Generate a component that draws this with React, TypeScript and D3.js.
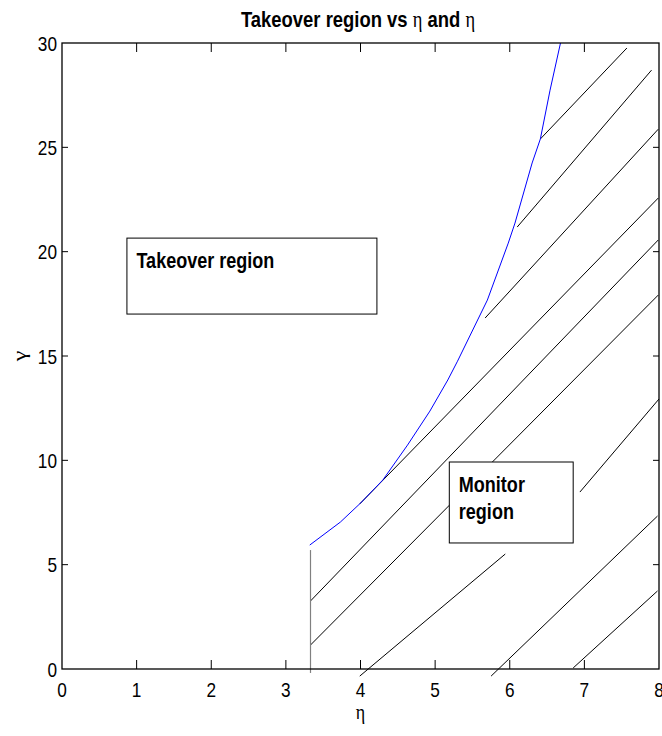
import React, { useEffect, useRef } from 'react';
import * as d3 from 'd3';

// boundary between takeover and monitor regions
const boundaryEta = [3.32, 3.73, 4.0, 4.3, 4.63, 4.93, 5.17, 5.3, 5.7, 5.98, 6.07, 6.3, 6.41, 6.54, 6.68];
const boundaryGamma = [5.94, 7.04, 7.95, 9.06, 10.73, 12.36, 13.85, 14.75, 17.68, 20.41, 21.37, 24.25, 25.4, 27.74, 30];

// lower limit of eta
const etaMin = 3.33;
const etaMinGamma = [5.7, -0.19];

// hatch segments (eta, gamma) start -> end
const hatchX1 = [6.41, 6.1, 5.67, 3.99, 3.33, 3.33, 3.99, 5.75, 6.85, 6.94];
const hatchY1 = [25.4, 21.18, 16.82, 7.91, 3.26, 1.15, -0.34, -0.34, 0.05, 8.48];
const hatchX2 = [7.57, 7.9, 7.99, 7.99, 7.99, 7.99, 5.94, 7.98, 7.98, 8.0];
const hatchY2 = [29.76, 28.7, 25.87, 22.57, 20.56, 17.92, 5.51, 7.33, 3.74, 12.94];

// text boxes: [eta0, eta1], [gamma top, gamma bottom]
const boxLabels = [['Takeover region'], ['Monitor', 'region']];
const boxEta = [[0.87, 4.22], [5.19, 6.85]];
const boxGamma = [[20.65, 17.01], [9.92, 6.04]];

const xTicks = [0, 1, 2, 3, 4, 5, 6, 7, 8];
const yTicks = [0, 5, 10, 15, 20, 25, 30];

const SQ = 0.82; // horizontal squeeze of the exported figure
const SANS = 'Liberation Sans, Arial, Helvetica, sans-serif';
const SERIF = 'Liberation Serif, Times New Roman, serif';

function App() {
    const svgRef = useRef(null);

    useEffect(() => {
        document.body.style.margin = '0';
        drawChart();
    }, []);

    const drawChart = () => {
        const svg = d3.select(svgRef.current);
        svg.selectAll('*').remove();

        const left = 62, right = 659, top = 43, bottom = 669;
        const x = d3.scaleLinear().domain([0, 8]).range([left, right]);
        const y = d3.scaleLinear().domain([0, 30]).range([bottom, top]);

        const label = (px, py, txt, size, weight, anchor, family = SANS) =>
            svg.append('text')
                .attr('transform', `translate(${px},${py}) scale(${SQ},1)`)
                .attr('text-anchor', anchor)
                .attr('font-family', family)
                .attr('font-size', size)
                .attr('font-weight', weight)
                .attr('fill', '#000')
                .text(txt);

        // hatch lines
        svg.append('g').selectAll('line')
            .data(hatchX1.map((d, i) => i))
            .enter()
            .append('line')
            .attr('x1', i => x(hatchX1[i]))
            .attr('y1', i => y(hatchY1[i]))
            .attr('x2', i => x(hatchX2[i]))
            .attr('y2', i => y(hatchY2[i]))
            .attr('stroke', '#000')
            .attr('stroke-width', 1);

        // eta lower limit
        svg.append('line')
            .attr('x1', x(etaMin)).attr('x2', x(etaMin))
            .attr('y1', y(etaMinGamma[0])).attr('y2', y(etaMinGamma[1]))
            .attr('stroke', '#808080')
            .attr('stroke-width', 1.2);

        // boundary curve
        const line = d3.line().x(d => x(d[0])).y(d => y(d[1]));
        svg.append('path')
            .datum(boundaryEta.map((e, i) => [e, boundaryGamma[i]]))
            .attr('d', line)
            .attr('fill', 'none')
            .attr('stroke', '#0000ff')
            .attr('stroke-width', 1);

        // text boxes
        boxLabels.forEach((lines, i) => {
            const bx = x(boxEta[i][0]);
            const by = y(boxGamma[i][0]);
            svg.append('rect')
                .attr('x', bx)
                .attr('y', by)
                .attr('width', x(boxEta[i][1]) - bx)
                .attr('height', y(boxGamma[i][1]) - by)
                .attr('fill', '#fff')
                .attr('stroke', '#000')
                .attr('stroke-width', 1);
            lines.forEach((t, j) => label(bx + 9.5, by + 30 + j * 27, t, 22, 'bold', 'start'));
        });

        // axes box
        svg.append('rect')
            .attr('x', left).attr('y', top)
            .attr('width', right - left).attr('height', bottom - top)
            .attr('fill', 'none')
            .attr('stroke', '#000')
            .attr('stroke-width', 1.3);

        const ticks = svg.append('g').attr('stroke', '#000').attr('stroke-width', 1);
        xTicks.slice(1, -1).forEach(t => {
            ticks.append('line').attr('x1', x(t)).attr('x2', x(t)).attr('y1', bottom).attr('y2', bottom - 9);
            ticks.append('line').attr('x1', x(t)).attr('x2', x(t)).attr('y1', top).attr('y2', top + 9);
        });
        yTicks.slice(1, -1).forEach(t => {
            ticks.append('line').attr('y1', y(t)).attr('y2', y(t)).attr('x1', left).attr('x2', left + 6);
            ticks.append('line').attr('y1', y(t)).attr('y2', y(t)).attr('x1', right).attr('x2', right - 6);
        });

        xTicks.forEach(t => label(x(t), bottom + 28, String(t), 21, 'normal', 'middle'));
        yTicks.forEach(t => label(left - 5, y(t) + 7.5, String(t), 21, 'normal', 'end'));

        // axis titles
        label(x(4), bottom + 50, 'η', 22, 'normal', 'middle', SERIF);
        svg.append('text')
            .attr('transform', `translate(26,${y(15)}) rotate(-90) scale(1,${SQ})`)
            .attr('text-anchor', 'middle')
            .attr('font-family', SERIF)
            .attr('font-size', 24)
            .text('γ');

        // title
        const title = label(358, 27, '', 22.5, 'bold', 'middle');
        title.append('tspan').text('Takeover region vs ');
        title.append('tspan').attr('font-family', SERIF).attr('font-weight', 'normal').text('η');
        title.append('tspan').text(' and ');
        title.append('tspan').attr('font-family', SERIF).attr('font-weight', 'normal').text('η');
    };

    return (
        <svg ref={svgRef} width={662} height={736} style={{ display: 'block', background: '#fff' }} />
    );
}

export default App;
